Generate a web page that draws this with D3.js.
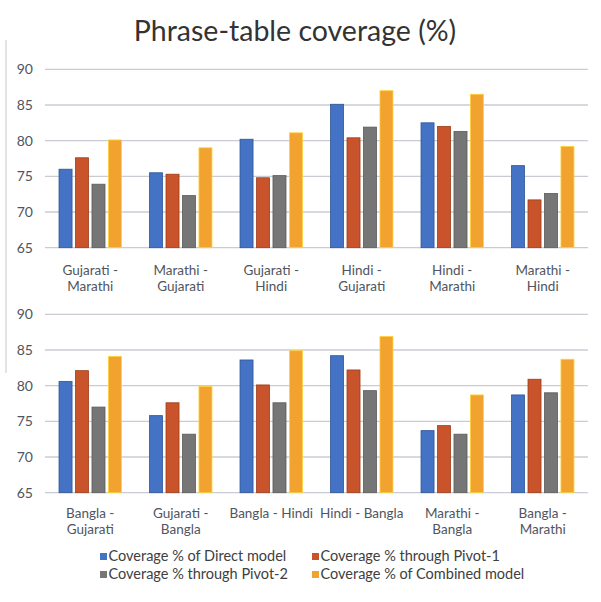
<!DOCTYPE html>
<html>
<head>
<meta charset="utf-8">
<script src="https://cdn.jsdelivr.net/npm/d3@7"></script>
<style>
  body { margin: 0; background: #fff; }
  text { font-family: Lato, "Open Sans", sans-serif; }
</style>
</head>
<body>
<svg id="chart" width="601" height="602"></svg>
<script>
// データ
var seriesNames = ["Coverage % of Direct model", "Coverage % through Pivot-1",
                   "Coverage % through Pivot-2", "Coverage % of Combined model"];
var seriesFill = ["#4472C4", "#C9532A", "#767676", "#F2A22F"];
var seriesStroke = ["#2E5597", "#9E3C1A", "#5A5A5A", "#FFD23A"];

var topCats = ["Gujarati -|Marathi", "Marathi -|Gujarati", "Gujarati -|Hindi",
               "Hindi -|Gujarati", "Hindi -|Marathi", "Marathi -|Hindi"];
var topDirect   = [76.0, 75.5, 80.2, 85.1, 82.5, 76.5];
var topPivot1   = [77.6, 75.3, 74.8, 80.4, 82.0, 71.7];
var topPivot2   = [73.9, 72.3, 75.1, 81.9, 81.3, 72.6];
var topCombined = [80.1, 79.0, 81.1, 87.0, 86.5, 79.2];

var botCats = ["Bangla -|Gujarati", "Gujarati -|Bangla", "Bangla - Hindi",
               "Hindi - Bangla", "Marathi -|Bangla", "Bangla -|Marathi"];
var botDirect   = [80.6, 75.8, 83.6, 84.2, 73.7, 78.7];
var botPivot1   = [82.1, 77.6, 80.1, 82.2, 74.4, 80.9];
var botPivot2   = [77.0, 73.2, 77.6, 79.3, 73.2, 79.0];
var botCombined = [84.1, 79.9, 84.9, 86.9, 78.7, 83.7];

var yTicks = [65, 70, 75, 80, 85, 90];

var svg = d3.select("#chart");

// 枠線
svg.append("line").attr("x1", 6).attr("x2", 6).attr("y1", 40).attr("y2", 373)
    .attr("stroke", "#c8c8c8").attr("stroke-width", 1);

svg.append("text").attr("x", 295).attr("y", 41).attr("text-anchor", "middle")
    .attr("font-size", 28.5).attr("fill", "#333333").text("Phrase-table coverage (%)");

function drawPanel(cats, series, yTop, yBottom, labelY) {
    var g = svg.append("g");
    var x0 = d3.scaleBand().domain(d3.range(cats.length)).range([45, 588])
        .paddingInner(0.31).paddingOuter(0.155);
    var x1 = d3.scaleBand().domain(d3.range(series.length)).range([0, x0.bandwidth()])
        .paddingInner(0.21);
    var y = d3.scaleLinear().domain([65, 90]).range([yBottom, yTop]);

    // グリッド
    g.selectAll("line.grid").data(yTicks).enter().append("line")
        .attr("x1", 45).attr("x2", 588)
        .attr("y1", function (d) { return y(d); }).attr("y2", function (d) { return y(d); })
        .attr("stroke", "#c9ccd2").attr("stroke-width", 1.3);

    g.selectAll("text.tick").data(yTicks).enter().append("text")
        .attr("x", 33).attr("y", function (d) { return y(d) + 5; })
        .attr("text-anchor", "end").attr("font-size", 14).attr("fill", "#505560")
        .text(function (d) { return d; });

    var groups = g.selectAll("g.grp").data(cats).enter().append("g")
        .attr("transform", function (d, i) { return "translate(" + x0(i) + ",0)"; });

    groups.selectAll("rect").data(function (d, i) {
        return series.map(function (s, k) { return { k: k, v: s[i] }; });
    }).enter().append("rect")
        .attr("x", function (d) { return x1(d.k); })
        .attr("width", x1.bandwidth())
        .attr("y", function (d) { return y(d.v); })
        .attr("height", function (d) { return yBottom - y(d.v); })
        .attr("fill", function (d) { return seriesFill[d.k]; })
        .attr("stroke", function (d) { return seriesStroke[d.k]; })
        .attr("stroke-width", 0.8);

    // カテゴリラベル (行ごとに別テキスト)
    groups.each(function (d, i) {
        var lines = d.split("|");
        var grp = d3.select(this);
        lines.forEach(function (ln, j) {
            grp.append("text").attr("text-anchor", "middle").attr("font-size", 13.5)
                .attr("fill", "#505560")
                .attr("x", x0.bandwidth() / 2).attr("y", labelY + j * 16).text(ln);
        });
    });
}

drawPanel(topCats, [topDirect, topPivot1, topPivot2, topCombined], 69.3, 247.7, 274.5);
drawPanel(botCats, [botDirect, botPivot1, botPivot2, botCombined], 314.3, 492.7, 517.5);

// 凡例
var legendPos = [[100, 561], [312, 561], [100, 579], [312, 579]];
var legend = svg.selectAll("g.legend").data(seriesNames).enter().append("g")
    .attr("transform", function (d, i) { return "translate(" + legendPos[i][0] + "," + legendPos[i][1] + ")"; });
legend.append("rect").attr("x", 0).attr("y", -8).attr("width", 7).attr("height", 7)
    .attr("fill", function (d, i) { return seriesFill[i]; });
legend.append("text").attr("x", 8.5).attr("y", 0).attr("font-size", 14.5).attr("fill", "#404040")
    .text(function (d) { return d; });
</script>
</body>
</html>
